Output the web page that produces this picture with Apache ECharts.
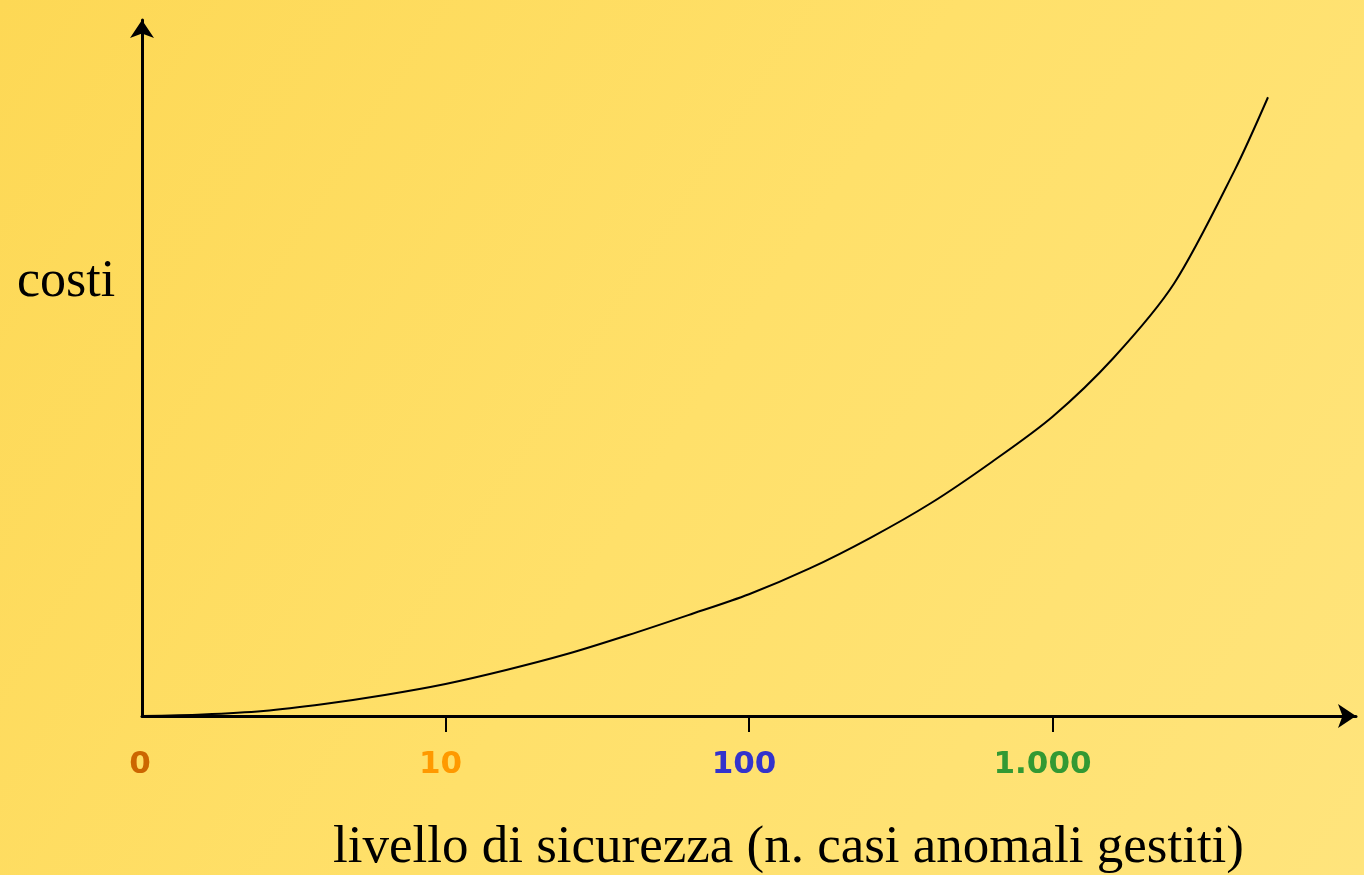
<!DOCTYPE html>
<html>
<head>
<meta charset="utf-8">
<title>costi / livello di sicurezza</title>
<script src="https://cdn.jsdelivr.net/npm/echarts@6/dist/echarts.min.js"></script>
<style>
  html, body { margin: 0; padding: 0; }
  #chart { width: 1364px; height: 875px; }
</style>
</head>
<body>
<div id="chart"></div>
<script>
// livello (0 -> 0, 1 -> 10, 2 -> 100, 3 -> 1.000) e costi
const livello = [0, 0.2, 0.4, 0.6, 0.8, 1.0, 1.2, 1.4, 1.6, 1.8, 2.0, 2.2, 2.4, 2.6, 2.8, 3.0, 3.2, 3.4, 3.6, 3.71]
const costi = [0, 0.22, 0.72, 1.72, 3.02, 4.6, 6.61, 8.9, 11.6, 14.5, 17.5, 21.2, 25.6, 30.6, 36.5, 43.0, 51.4, 62.1, 78.4, 88.9]

const tickValues = [1, 2, 3]
const labelValues = [0, 1, 2, 3]
const labelTexts = ['0', '10', '100', '1.000']
const labelColors = ['#cc6600', '#ff9900', '#3333cc', '#339933']
// gli etichette nell'originale stanno un po' a sinistra delle tacche
const labelShift = [4, 10, 10, 20]

const chart = echarts.init(document.getElementById('chart'))

const rich = {}
labelColors.forEach((c, i) => {
  rich['l' + i] = {
    color: c,
    fontFamily: 'DejaVu Sans',
    fontWeight: 'bold',
    fontSize: 31,
    padding: [0, labelShift[i], 0, 0]
  }
})

chart.setOption({
  backgroundColor: new echarts.graphic.LinearGradient(0, 0, 1, 1, [
    { offset: 0, color: '#fdd855' },
    { offset: 0.5, color: '#ffe06a' },
    { offset: 1, color: '#ffe47c' }
  ]),
  animation: false,
  grid: { left: 142, right: 8, top: 20, bottom: 159 },
  xAxis: {
    type: 'value',
    min: 0,
    max: 4,
    interval: 1,
    splitLine: { show: false },
    axisLine: {
      lineStyle: { color: '#000', width: 3 },
      symbol: ['none', 'arrow'],
      symbolSize: [18, 18]
    },
    axisTick: {
      show: true,
      customValues: tickValues,
      length: 16,
      lineStyle: { color: '#000', width: 2 }
    },
    axisLabel: {
      customValues: labelValues,
      margin: 33,
      formatter: (v) => {
        const i = labelValues.indexOf(v)
        return i < 0 ? '' : '{l' + i + '|' + labelTexts[i] + '}'
      },
      rich: rich
    }
  },
  yAxis: {
    type: 'value',
    min: 0,
    max: 100,
    splitLine: { show: false },
    axisTick: { show: false },
    axisLabel: { show: false },
    axisLine: {
      show: true,
      lineStyle: { color: '#000', width: 3 },
      symbol: ['none', 'arrow'],
      symbolSize: [18, 18]
    }
  },
  graphic: [
    {
      type: 'text',
      left: 17,
      top: 256,
      style: {
        text: 'costi',
        fontFamily: 'Liberation Serif',
        fontSize: 52,
        fill: '#000'
      }
    },
    {
      type: 'text',
      left: 333,
      top: 822,
      style: {
        text: 'livello di sicurezza (n. casi anomali gestiti)',
        fontFamily: 'Liberation Serif',
        fontSize: 53,
        fill: '#000'
      }
    }
  ],
  series: [{
    type: 'line',
    data: livello.map((x, i) => [x, costi[i]]),
    smooth: 0.3,
    showSymbol: false,
    lineStyle: { color: '#000', width: 2 }
  }]
})
</script>
</body>
</html>
